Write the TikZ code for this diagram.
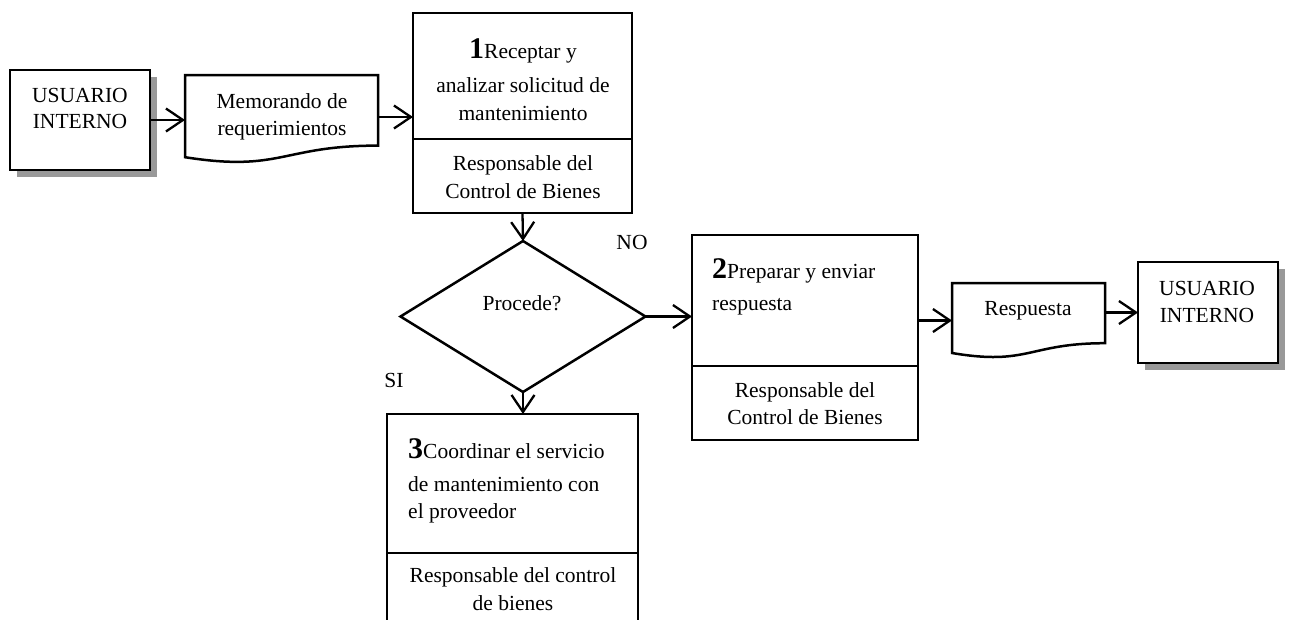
\documentclass[tikz,border=0pt]{standalone}
\usepackage{fontspec}
\setmainfont{Liberation Serif}
\usetikzlibrary{shapes.geometric,arrows.meta,calc}
\newcommand\stepnum[1]{{\fontsize{30}{30}\selectfont\bfseries #1}}
\begin{document}
\begin{tikzpicture}[x=1pt,y=-1pt,
  box/.style={draw,line width=2.5pt,rectangle,inner sep=0pt,outer sep=0pt,fill=white},
  docbox/.style={rectangle,inner sep=0pt,outer sep=0pt},
  docline/.style={line width=2.5pt,fill=white},
  divider/.style={line width=2.5pt},
  txt/.style={inner sep=0pt,anchor=base,font=\fontsize{21.5}{26}\selectfont},
  ltxt/.style={txt,anchor=base west},
  flow/.style={line width=2.3pt,-{Straight Barb[length=17pt,width=23pt,line width=2.3pt]}},
  shadowc/.style={fill=black!40}
]
\clip (0,0) rectangle (1291,619);
\useasboundingbox (0,0) rectangle (1291,619);

% ---- internal user (left)
\fill[shadowc] (17,77) rectangle (157,177);
\node[box, minimum width=140, minimum height=100] (u1) at (80,120) {};
\node[txt] (u1a) at (80,102) {USUARIO};
\node[txt] (u1b) at (80,128) {INTERNO};

% ---- requirements memo (document shape)
\node[docbox, minimum width=193, minimum height=88] (memo) at (281.5,119) {};
\draw[docline] (memo.north west) -- (memo.north east) -- ($(memo.north east)+(0,70.6)$)
  .. controls ($(memo.north)+(0,70.6)$) and ($(memo.north)+(0,97.4)$) .. ($(memo.north west)+(0,82.2)$) -- cycle;
\node[txt] (memoa) at (282,108) {Memorando de};
\node[txt] (memob) at (282,135) {requerimientos};

% ---- step 1
\node[box, minimum width=219, minimum height=200] (p1) at (522.5,113) {};
\draw[divider] (p1.west |- 0,139) -- (p1.east |- 0,139);
\node[txt] (p1a) at (523,58) {\stepnum{1}Receptar y};
\node[txt] (p1b) at (523,92) {analizar solicitud de};
\node[txt] (p1c) at (523,120) {mantenimiento};
\node[txt] (p1d) at (523,170) {Responsable del};
\node[txt] (p1e) at (523,198) {Control de Bienes};

% ---- decision
\node[draw, diamond, line width=2.5pt, minimum width=245, minimum height=151, inner sep=0pt, outer sep=0pt] (dec) at (523,316.5) {};
\node[txt] (deca) at (522,310) {Procede?};
\node[txt] (no) at (632,249) {NO};
\node[txt] (si) at (394,387) {SI};

% ---- step 2
\node[box, minimum width=226, minimum height=205] (p2) at (805,337.5) {};
\draw[divider] (p2.west |- 0,366) -- (p2.east |- 0,366);
\node[ltxt] (p2a) at (712,278) {\stepnum{2}Preparar y enviar};
\node[ltxt] (p2b) at (712,310) {respuesta};
\node[txt] (p2c) at (805,397) {Responsable del};
\node[txt] (p2d) at (805,424) {Control de Bienes};

% ---- answer (document shape)
\node[docbox, minimum width=153, minimum height=75] (resp) at (1028.5,320.5) {};
\draw[docline] (resp.north west) -- (resp.north east) -- ($(resp.north east)+(0,60.2)$)
  .. controls ($(resp.north)+(0,60.2)$) and ($(resp.north)+(0,83)$) .. ($(resp.north west)+(0,70)$) -- cycle;
\node[txt] (respa) at (1028,315) {Respuesta};

% ---- internal user (right)
\fill[shadowc] (1145,269) rectangle (1285,370);
\node[box, minimum width=140, minimum height=101] (u2) at (1208,312.5) {};
\node[txt] (u2a) at (1207,295) {USUARIO};
\node[txt] (u2b) at (1207,322) {INTERNO};

% ---- step 3
\node[box, minimum width=251, minimum height=246] (p3) at (512.5,537) {};
\draw[divider] (p3.west |- 0,553) -- (p3.east |- 0,553);
\node[ltxt] (p3a) at (408,458) {\stepnum{3}Coordinar el servicio};
\node[ltxt] (p3b) at (408,491) {de mantenimiento con};
\node[ltxt] (p3c) at (408,518) {el proveedor};
\node[txt] (p3d) at (513,582) {Responsable del control};
\node[txt] (p3e) at (513,610) {de bienes};

% ---- connectors
\draw[flow] (u1.east) -- (u1.east -| memo.west);
\draw[flow] ($(memo.east)+(0,-2)$) -- ($(memo.east -| p1.west)+(0,-2)$);
\draw[flow] (p1.south) -- (dec.north);
\draw[flow] (dec.east) -- (dec.east -| p2.west);
\draw[flow] (dec.south) -- (dec.south |- p3.north);
\draw[flow] (p2.east |- resp.west) -- (resp.west);
\draw[flow] (resp.east |- u2.west) -- (u2.west);
\end{tikzpicture}
\end{document}
